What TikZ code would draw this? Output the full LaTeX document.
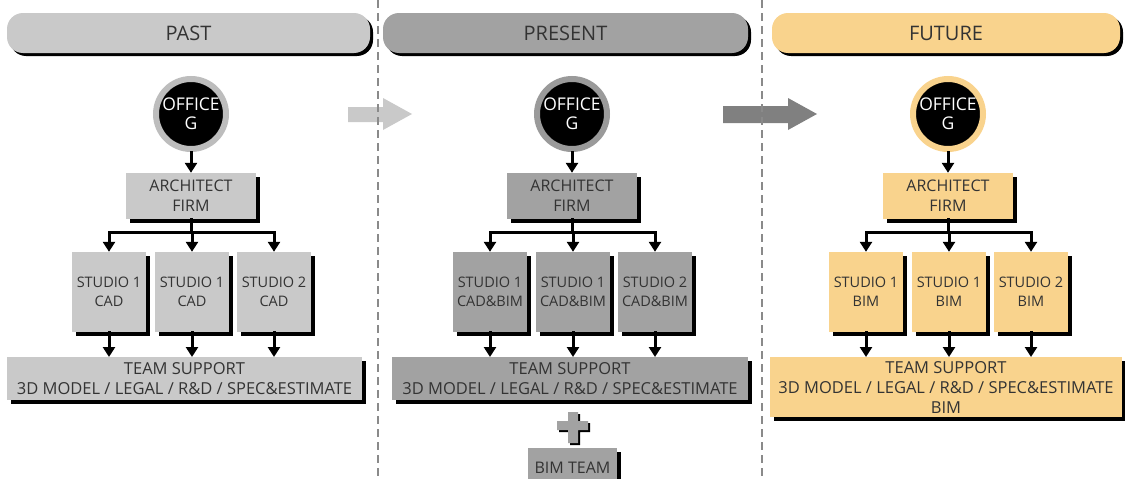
\documentclass[tikz,border=0pt]{standalone}
\usepackage{fontspec}
\setmainfont{Open Sans}
\usetikzlibrary{positioning,shadows,arrows.meta}

\definecolor{pastgray}{HTML}{C9C9C9}
\definecolor{pastring}{HTML}{BDBDBD}
\definecolor{nowgray}{HTML}{A2A2A2}
\definecolor{nowring}{HTML}{9A9A9A}
\definecolor{futorange}{HTML}{F9D38D}
\definecolor{shiftgray}{HTML}{808080}
\definecolor{inkgray}{HTML}{333333}
\definecolor{dashgray}{HTML}{8A8A8A}

\tikzset{
  solid shadow/.style={drop shadow={shadow xshift=#1,shadow yshift=-#1,fill=black,opacity=1}},
  solid shadow/.default=3.5pt,
  title bar/.style={fill=#1,rounded corners=16pt,minimum height=40pt,solid shadow=3pt,text=inkgray,font=\fontsize{20}{24}\selectfont},
  office/.style={circle,fill=black,draw=#1,line width=6pt,minimum size=70pt,inner sep=0pt,align=center,text=white,font=\fontsize{17.5}{19}\selectfont},
  org box/.style={fill=#1,solid shadow,align=center,inner sep=1pt,text=inkgray,font=\fontsize{16}{20}\selectfont},
  firm box/.style={org box=#1,minimum width=130pt,minimum height=46pt},
  studio box/.style={org box=#1,minimum width=74pt,minimum height=80pt,font=\fontsize{14.5}{19}\selectfont},
  support box/.style={org box=#1,minimum height=43pt,anchor=north,font=\fontsize{16.5}{20}\selectfont},
  link/.style={line width=3pt,line cap=rect},
  feed/.style={link,-{Triangle[length=10pt,width=12pt]}},
  divider/.style={dashgray,line width=2.8pt,dash pattern=on 8pt off 5pt}
}

\begin{document}
\begin{tikzpicture}[x=1pt,y=-1pt]
  \useasboundingbox (0,0) rectangle (1125,479);
  \clip (0,0) rectangle (1125,479);

  % period headers
  \foreach \hx/\hw/\clr/\title/\nm in {188.5/363/pastgray/PAST/past,565.5/365/nowgray/PRESENT/now,946/348/futorange/FUTURE/fut}{
    \node[title bar=\clr,minimum width=\hw pt] (\nm-title) at (\hx,33) {\title};
  }

  % arrows between periods
  \fill[pastgray] (348,107) -- (383,107) -- (383,98) -- (412,114) -- (383,130) -- (383,122) -- (348,122) -- cycle;
  \fill[shiftgray] (723,106) -- (788,106) -- (788,98) -- (817,114) -- (788,130) -- (788,123) -- (723,123) -- cycle;
  \draw[divider] (378,0) -- (378,479);
  \draw[divider] (762,0) -- (762,479);

  % office, firm and studios
  \foreach \x/\clr/\ring/\tool/\nm in {191/pastgray/pastring/CAD/past,572/nowgray/nowring/CAD\&BIM/now,948/futorange/futorange/BIM/fut}{
    \node[office=\ring] (\nm-office) at (\x,114) {OFFICE\\G};
    \node[firm box=\clr] (\nm-firm) at (\x,196) {ARCHITECT\\FIRM};
    \foreach \dx/\i/\n in {-82/1/1,1/2/1,83/3/2}{
      \node[studio box=\clr] (\nm-studio\i) at (\x+\dx,292) {STUDIO \n\\\tool};
    }
  }

  \node[support box=pastgray,minimum width=355pt] (past-support) at (184.5,357)
    {TEAM SUPPORT\\3D MODEL / LEGAL / R\&D / SPEC\&ESTIMATE};
  \node[support box=nowgray,minimum width=356pt] (now-support) at (570,357)
    {TEAM SUPPORT\\3D MODEL / LEGAL / R\&D / SPEC\&ESTIMATE};
  \node[support box=futorange,minimum width=352pt,minimum height=60pt] (fut-support) at (946,357)
    {TEAM SUPPORT\\3D MODEL / LEGAL / R\&D / SPEC\&ESTIMATE\\BIM};

  % plus bim team
  \fill[black] (559,423) rectangle (590,432) (570,414) rectangle (580,445);
  \fill[nowgray] (557,421) rectangle (588,430) (568,412) rectangle (578,443);
  \node[org box=nowgray,minimum width=89pt,minimum height=40pt,anchor=north] (bim-team) at (572.5,448) {BIM TEAM};

  % connectors
  \foreach \nm in {past,now,fut}{
    \draw[feed] (\nm-office) -- (\nm-firm);
    \coordinate (\nm-fork) at (\nm-firm |- 0,232);
    \draw[link] (\nm-firm) -- (\nm-fork);
    \draw[link] (\nm-fork -| \nm-studio1) -- (\nm-fork -| \nm-studio3);
    \foreach \i in {1,2,3}{
      \draw[feed] (\nm-fork -| \nm-studio\i) -- (\nm-studio\i);
      \draw[feed] (\nm-studio\i) -- (\nm-studio\i |- \nm-support.north);
    }
  }
\end{tikzpicture}
\end{document}
